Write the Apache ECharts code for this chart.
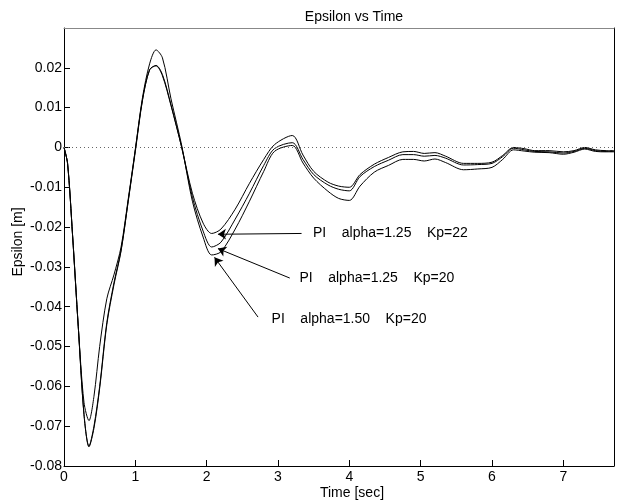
<!DOCTYPE html>
<html>
<head>
<meta charset="utf-8">
<script src="https://cdn.jsdelivr.net/npm/echarts@6/dist/echarts.min.js"></script>
<style>
html,body{margin:0;padding:0;background:#fff;}
#chart{width:618px;height:501px;}
</style>
</head>
<body>
<div id="chart"></div>
<script>
const time = [0, 0.05, 0.12, 0.2, 0.28, 0.35, 0.42, 0.5, 0.6, 0.7, 0.8, 0.9, 1.0, 1.1, 1.2, 1.29, 1.38, 1.5, 1.65, 1.8, 1.95, 2.07, 2.2, 2.4, 2.6, 2.8, 2.95, 3.2, 3.35, 3.5, 3.7, 3.85, 4.0, 4.15, 4.35, 4.55, 4.75, 4.9, 5.05, 5.2, 5.35, 5.6, 5.8, 6.0, 6.15, 6.3, 6.45, 6.6, 6.8, 7.0, 7.15, 7.3, 7.45, 7.6, 7.71];

const epsA125Kp22 = [0, -0.004, -0.022, -0.045, -0.064, -0.0686, -0.0625, -0.050, -0.038, -0.032, -0.025, -0.013, -0.0005, 0.012, 0.0195, 0.0205, 0.018, 0.0105, 0.000, -0.0115, -0.019, -0.0216, -0.0205, -0.0155, -0.009, -0.003, 0.0007, 0.003, -0.0019, -0.006, -0.0087, -0.0097, -0.0100, -0.0068, -0.0042, -0.0025, -0.0011, -0.0010, -0.0015, -0.0013, -0.0022, -0.0040, -0.0040, -0.0037, -0.0020, 0.0000, -0.0003, -0.0008, -0.0008, -0.0011, -0.0008, 0.0000, -0.0006, -0.0008, -0.0008];

const epsA125Kp20 = [0, -0.004, -0.022, -0.045, -0.067, -0.075, -0.070, -0.060, -0.044, -0.034, -0.0258, -0.0135, -0.001, 0.0118, 0.0195, 0.0206, 0.0183, 0.0107, 0.000, -0.0125, -0.021, -0.025, -0.0238, -0.018, -0.0115, -0.0045, -0.0003, 0.0012, -0.0030, -0.0068, -0.0094, -0.0105, -0.0109, -0.0073, -0.0048, -0.0032, -0.0018, -0.0018, -0.0022, -0.0020, -0.0027, -0.0044, -0.0043, -0.0040, -0.0023, -0.0002, -0.0006, -0.0010, -0.0011, -0.0014, -0.0010, -0.0002, -0.0008, -0.0010, -0.0010];

const epsA150Kp20 = [0, -0.004, -0.022, -0.045, -0.067, -0.0752, -0.0705, -0.0605, -0.0445, -0.0345, -0.026, -0.0135, -0.0005, 0.0125, 0.021, 0.0245, 0.0225, 0.0122, 0.0005, -0.0135, -0.0225, -0.027, -0.0262, -0.0205, -0.0135, -0.006, -0.001, 0.0005, -0.0039, -0.0077, -0.011, -0.0128, -0.0133, -0.0097, -0.0062, -0.0045, -0.0030, -0.0030, -0.0034, -0.0029, -0.0038, -0.0056, -0.0054, -0.0050, -0.0030, -0.0006, -0.0009, -0.0012, -0.0013, -0.0017, -0.0012, -0.0004, -0.0010, -0.0011, -0.0011];

const xTickLabels = ['0', '1', '2', '3', '4', '5', '6', '7'];

// annotation texts, anchors (data coords) and arrow lines
const annoTexts = ['PI    alpha=1.25    Kp=22', 'PI    alpha=1.25    Kp=20', 'PI    alpha=1.50    Kp=20'];
const annoTextAt = [[3.49, -0.0216], [3.30, -0.0329], [2.91, -0.0430]];
const annoArrowFrom = [[3.33, -0.0216], [3.165, -0.0328], [2.72, -0.0426]];
const annoArrowTo = [[2.158, -0.0218], [2.158, -0.0254], [2.11, -0.0276]];

const FONT = 'Liberation Sans, Arial, sans-serif';
const zip = (xs, ys) => xs.map((x, i) => [x, ys[i]]);

const lineSeries = (name, vals) => ({
  name: name,
  type: 'line',
  data: zip(time, vals),
  showSymbol: false,
  symbol: 'none',
  smooth: 0.3,
  lineStyle: { color: '#000', width: 1 },
  silent: true,
  z: 3
});

const s1 = lineSeries('PI alpha=1.25 Kp=22', epsA125Kp22);
const s2 = lineSeries('PI alpha=1.25 Kp=20', epsA125Kp20);
const s3 = lineSeries('PI alpha=1.50 Kp=20', epsA150Kp20);

// dotted zero reference line
s1.markLine = {
  silent: true,
  animation: false,
  symbol: ['none', 'none'],
  label: { show: false },
  lineStyle: { color: '#666', width: 1, type: [1, 3] },
  data: [{ yAxis: 0 }]
};

// annotation arrows
s2.markLine = {
  silent: true,
  animation: false,
  symbol: ['none', 'arrow'],
  symbolSize: 8,
  label: { show: false },
  lineStyle: { color: '#000', width: 1, type: 'solid' },
  itemStyle: { color: '#000' },
  data: annoArrowFrom.map((p, i) => [{ coord: p }, { coord: annoArrowTo[i] }])
};

// annotation texts
s3.markPoint = {
  silent: true,
  animation: false,
  symbol: 'circle',
  symbolSize: 0,
  data: annoTexts.map((t, i) => ({
    coord: annoTextAt[i],
    label: {
      show: true,
      formatter: t,
      position: 'right',
      distance: 0,
      color: '#000',
      fontSize: 14,
      fontFamily: FONT
    }
  }))
};

const chart = echarts.init(document.getElementById('chart'), null, { renderer: 'canvas' });
chart.setOption({
  animation: false,
  backgroundColor: '#fff',
  title: [
    { text: 'Epsilon vs Time', left: 349, top: 5, textAlign: 'center',
      textStyle: { fontSize: 14, fontWeight: 'normal', color: '#000', fontFamily: FONT } },
    { text: 'Time [sec]', left: 347, top: 481, textAlign: 'center',
      textStyle: { fontSize: 14, fontWeight: 'normal', color: '#000', fontFamily: FONT } }
  ],
  graphic: [
    { type: 'text', x: 18, y: 242, rotation: Math.PI / 2, silent: true,
      style: { text: 'Epsilon [m]', fill: '#000', font: '14px ' + FONT, textAlign: 'center', textVerticalAlign: 'middle' } }
  ],
  grid: { left: 64, right: 4, top: 28, bottom: 35, containLabel: false },
  xAxis: [
    {
      type: 'value', min: 0, max: 7.71, interval: 1, position: 'bottom',
      axisLine: { show: true, onZero: false, lineStyle: { color: '#000', width: 1 } },
      axisTick: { show: true, inside: true, length: 6, lineStyle: { color: '#000' } },
      axisLabel: {
        show: true, margin: 4, color: '#000', fontSize: 14, fontFamily: FONT,
        formatter: v => { const r = Math.round(v); return Math.abs(v - r) < 1e-6 && r >= 0 && r < xTickLabels.length ? xTickLabels[r] : ''; }
      },
      splitLine: { show: false }
    },
    {
      type: 'value', min: 0, max: 7.71, position: 'top',
      axisLine: { show: true, onZero: false, lineStyle: { color: '#888', width: 1 } },
      axisTick: { show: false }, axisLabel: { show: false }, splitLine: { show: false }
    }
  ],
  yAxis: [
    {
      type: 'value', min: -0.08, max: 0.03, interval: 0.01, position: 'left',
      axisLine: { show: true, onZero: false, lineStyle: { color: '#000', width: 1 } },
      axisTick: { show: true, inside: true, length: 6, lineStyle: { color: '#000' } },
      axisLabel: {
        show: true, margin: 2, color: '#000', fontSize: 14, fontFamily: FONT,
        showMaxLabel: false,
        formatter: v => { if (Math.abs(v) < 1e-9) return '0'; return String(+v.toFixed(2)); }
      },
      splitLine: { show: false }
    },
    {
      type: 'value', min: -0.08, max: 0.03, position: 'right',
      axisLine: { show: true, onZero: false, lineStyle: { color: '#000', width: 1 } },
      axisTick: { show: false }, axisLabel: { show: false }, splitLine: { show: false }
    }
  ],
  series: [s1, s2, s3]
});
</script>
</body>
</html>
